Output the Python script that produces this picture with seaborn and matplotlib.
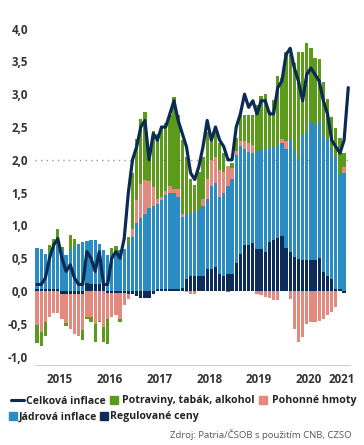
import numpy as np
import pandas as pd
import matplotlib
matplotlib.use("Agg")
import matplotlib.pyplot as plt
from matplotlib.lines import Line2D
import seaborn as sns

# ─────────────────────────────────────────────
# DATA (měsíčně, leden 2015 - březen 2021, p.b.)
# ─────────────────────────────────────────────
regulovane = [
    0.03, 0.03, 0.03, 0.03, 0.03, 0.03, -0.04, -0.05, -0.05, -0.05, -0.05, -0.04,
    0.12, 0.10, 0.10, 0.11, 0.10, -0.03, -0.03, -0.03, -0.03, -0.03, -0.04, -0.05,
    -0.08, -0.11, -0.11, -0.11, -0.05, 0.03, 0.03, 0.03, 0.03, 0.03, 0.03, 0.04,
    0.18, 0.23, 0.23, 0.23, 0.23, 0.34, 0.34, 0.37, 0.26, 0.23, 0.26, 0.26,
    0.43, 0.56, 0.70, 0.70, 0.73, 0.64, 0.64, 0.60, 0.75, 0.77, 0.81, 0.84,
    0.66, 0.60, 0.52, 0.49, 0.47, 0.47, 0.47, 0.47, 0.50, 0.29, 0.23, 0.19,
    0.03, 0.03, -0.03,
]
jadrova = [
    0.62, 0.61, 0.53, 0.57, 0.63, 0.65, 0.62, 0.55, 0.64, 0.67, 0.71, 0.74,
    0.64, 0.67, 0.67, 0.61, 0.52, 0.55, 0.57, 0.60, 0.63, 0.64, 0.72, 0.83,
    1.03, 1.11, 1.18, 1.26, 1.29, 1.30, 1.35, 1.43, 1.47, 1.46, 1.41, 1.09,
    0.99, 0.95, 0.98, 1.00, 1.06, 1.06, 1.26, 1.27, 1.17, 1.26, 1.34, 1.44,
    1.65, 1.65, 1.47, 1.42, 1.38, 1.50, 1.52, 1.55, 1.43, 1.43, 1.40, 1.41,
    1.51, 1.71, 1.63, 1.52, 1.91, 1.96, 2.11, 2.04, 2.08, 2.07, 2.07, 1.98,
    2.02, 1.76, 1.80,
]
pohonne = [
    -0.52, -0.62, -0.48, -0.40, -0.33, -0.33, -0.38, -0.44, -0.53, -0.61, -0.64, -0.55,
    -0.40, -0.40, -0.50, -0.45, -0.55, -0.40, -0.36, -0.33, -0.40, -0.18, -0.08, 0.12,
    0.36, 0.52, 0.51, 0.41, 0.29, 0.08, 0.06, 0.07, 0.10, 0.06, 0.11, 0.05,
    -0.02, -0.04, -0.05, 0.00, 0.12, 0.30, 0.40, 0.41, 0.42, 0.33, 0.30, 0.17,
    0.05, 0.07, 0.11, 0.14, 0.12, -0.04, -0.06, -0.09, -0.10, -0.13, -0.13, 0.06,
    0.12, -0.12, -0.58, -0.78, -0.70, -0.51, -0.48, -0.47, -0.45, -0.42, -0.37, -0.32,
    -0.24, 0.00, 0.09,
]
potraviny = [
    -0.27, -0.22, -0.21, 0.10, 0.14, 0.27, 0.05, -0.04, 0.21, 0.13, 0.00, -0.15,
    -0.03, -0.08, -0.27, -0.03, -0.23, -0.38, 0.08, 0.08, -0.04, 0.00, 0.10, 0.85,
    0.92, 0.99, 1.04, 0.48, 0.86, 0.99, 1.08, 1.03, 1.08, 1.41, 1.13, 1.12,
    0.88, 0.52, 0.41, 0.59, 0.64, 0.73, 0.30, 0.45, 0.40, 0.28, -0.02, 0.08,
    0.20, 0.40, 0.41, 0.42, 0.45, 0.70, 0.81, 0.85, 0.57, 0.71, 1.07, 0.93,
    1.36, 1.31, 1.32, 1.63, 1.27, 1.35, 1.13, 1.04, 0.95, 0.83, 0.62, 0.49,
    0.43, 0.54, 0.21,
]
# celková inflace (leden 2015 - duben 2021)
celkova = [
    0.1, 0.1, 0.2, 0.5, 0.7, 0.8, 0.5, 0.3, 0.4, 0.2, 0.1, 0.1,
    0.6, 0.5, 0.3, 0.6, 0.1, 0.1, 0.5, 0.6, 0.5, 0.8, 1.5, 2.0,
    2.2, 2.5, 2.6, 2.0, 2.4, 2.3, 2.5, 2.5, 2.7, 2.9, 2.6, 2.4,
    2.2, 1.8, 1.7, 1.9, 2.2, 2.6, 2.3, 2.5, 2.3, 2.2, 2.0, 2.0,
    2.5, 2.7, 3.0, 2.8, 2.9, 2.7, 2.9, 2.9, 2.7, 2.7, 3.1, 3.2,
    3.6, 3.7, 3.4, 3.2, 2.9, 3.3, 3.4, 3.3, 3.2, 2.9, 2.7, 2.3,
    2.2, 2.1, 2.3, 3.1,
]
years = ["2015", "2016", "2017", "2018", "2019", "2020", "2021"]
y_ticks = [-1.0, -0.5, 0.0, 0.5, 1.0, 1.5, 2.0, 2.5, 3.0, 3.5, 4.0]

series = [
    ("Regulované ceny", regulovane, "#0d2c5a"),
    ("Jádrová inflace", jadrova, "#2b8cc4"),
    ("Pohonné hmoty", pohonne, "#e3897d"),
    ("Potraviny, tabák, alkohol", potraviny, "#5c9a1b"),
]
LINE_COLOR = "#0b2a55"

sns.set_theme(style="white")
plt.rcParams["font.family"] = ["Open Sans", "DejaVu Sans"]

fig = plt.figure(figsize=(3.64, 4.45), dpi=100)
ax = fig.add_axes([35 / 364, 1 - 365 / 445, 315 / 364, 349.5 / 445])

# ─────────────────────────────────────────────
# SKLÁDANÉ SLOUPCE
# ─────────────────────────────────────────────
n = len(regulovane)
x = np.arange(n)
pos_base = np.zeros(n)
neg_base = np.zeros(n)
for name, vals, color in series:
    v = np.array(vals)
    bottom = np.where(v >= 0, pos_base, neg_base)
    ax.bar(x, v, bottom=bottom, width=0.8, color=color, linewidth=0, zorder=2)
    pos_base += np.clip(v, 0, None)
    neg_base += np.clip(v, None, 0)

ax.axhline(2.0, color="#9a9a9a", lw=1.0, ls=(0, (1, 3)), zorder=1)

df_line = pd.DataFrame({"m": np.arange(len(celkova)), "v": celkova})
sns.lineplot(data=df_line, x="m", y="v", color=LINE_COLOR, lw=2.3, ax=ax, zorder=4)

# ─────────────────────────────────────────────
# OSY
# ─────────────────────────────────────────────
ax.set_xlim(-0.48, 75.42)
ax.set_ylim(-1.128, 4.2)
ax.set_xlabel("")
ax.set_ylabel("")
for s in ["top", "right", "left"]:
    ax.spines[s].set_visible(False)
ax.spines["bottom"].set_color("#d0d0d0")
ax.spines["bottom"].set_linewidth(0.8)

ax.set_yticks(y_ticks)
ax.set_yticklabels([f"{t:.1f}".replace(".", ",") for t in y_ticks],
                   fontsize=8.3, fontweight="bold", color="#333333")
ax.tick_params(axis="y", length=3, width=0.8, color="#c8c8c8", pad=2)

ax.set_xticks(np.arange(len(years)) * 12 - 0.5)
ax.set_xticklabels([])
ax.tick_params(axis="x", which="major", length=4, width=0.8, color="#c8c8c8")
label_pos = [i * 12 + 5.5 for i in range(len(years) - 1)] + [73.5]
ax.set_xticks(label_pos, minor=True)
ax.set_xticklabels(years, minor=True, fontsize=8.3, fontweight="bold", color="#333333")
ax.tick_params(axis="x", which="minor", length=0, pad=6)

# ─────────────────────────────────────────────
# LEGENDA
# ─────────────────────────────────────────────
def square(color):
    return Line2D([], [], marker="s", ls="none", markersize=6.0, color=color)

row1 = [Line2D([], [], color=LINE_COLOR, lw=2.2), square("#5c9a1b"), square("#e3897d")]
leg1 = fig.legend(row1, ["Celková inflace", "Potraviny, tabák, alkohol", "Pohonné hmoty"],
                  loc="center left", bbox_to_anchor=(11 / 364, 1 - 401 / 445),
                  ncol=3, frameon=False, borderpad=0, borderaxespad=0,
                  handlelength=1.2, handletextpad=0.2, columnspacing=0.2,
                  prop={"size": 7.6, "weight": "bold"})
row2 = [square("#2b8cc4"), square("#0d2c5a")]
leg2 = fig.legend(row2, ["Jádrová inflace", "Regulované ceny"],
                  loc="center left", bbox_to_anchor=(8 / 364, 1 - 417 / 445),
                  ncol=2, frameon=False, borderpad=0, borderaxespad=0,
                  handlelength=1.0, handletextpad=0.0, columnspacing=0.2,
                  prop={"size": 7.6, "weight": "bold"})
for leg in (leg1, leg2):
    for t in leg.get_texts():
        t.set_color("#222222")

fig.text(352 / 364, 1 - 434 / 445, "Zdroj: Patria/ČSOB s použitím CNB, CZSO",
         ha="right", va="center", fontsize=6.8, color="#555555")

fig.savefig("out.png", dpi=100)
